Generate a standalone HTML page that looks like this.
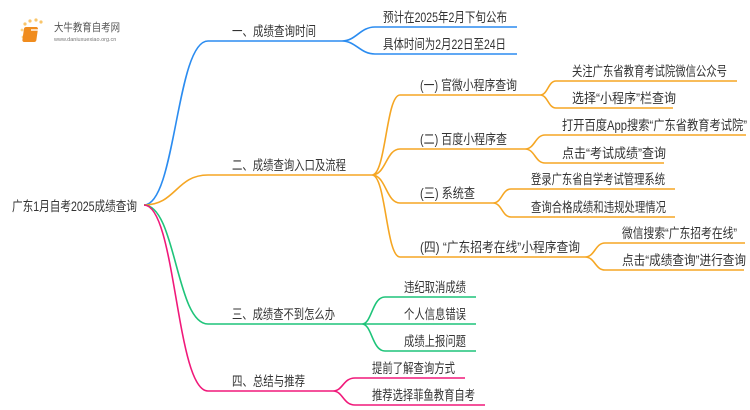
<!DOCTYPE html>
<html><head><meta charset="utf-8"><style>
html,body{margin:0;padding:0;background:#fff;}
svg{display:block;}
text{font-family:"Liberation Sans","Noto Sans CJK SC",sans-serif;font-size:13.5px;fill:#333;}
</style></head><body>
<svg width="750" height="410" viewBox="0 0 750 410" xmlns="http://www.w3.org/2000/svg">
<g>
<circle cx="25" cy="24" r="1.6" fill="#f9c56a"/><circle cx="30" cy="21" r="1.6" fill="#f9c56a"/><circle cx="36" cy="20" r="1.6" fill="#f9c56a"/><circle cx="41" cy="22" r="1.6" fill="#f9c56a"/><circle cx="22" cy="30" r="1.4" fill="#fbd58a"/><circle cx="23" cy="37" r="1.4" fill="#fbd58a"/>
<rect x="28" y="27" width="14" height="15" rx="2" fill="#f08c1e" transform="skewX(-8)"/>
<rect x="31" y="29" width="9" height="2" fill="#fff" opacity="0.7"/>
<text x="54" y="31" style="font-size:11px;fill:#555" textLength="66" lengthAdjust="spacingAndGlyphs">大牛教育自考网</text>
<text x="54" y="41" style="font-size:5.5px;fill:#777">www.daniuxuexiao.org.cn</text>
</g>
<g fill="none" stroke-width="1.6">
<path d="M144,205 C176,205 176,41 208,41 L342,41" stroke="#2b8cf0"/>
<path d="M342,41 C356,41 360,27 375,27 L517,27 M342,41 C356,41 360,54 375,54 L517,54" stroke="#2b8cf0"/>
<path d="M144,205 C176,205 176,175 208,175 L372,175" stroke="#f5a623"/>
<path d="M372,175 C386,175 386,95 400,95 L540,95 M372,175 C386,175 386,149 400,149 L525,149 M372,175 C386,175 386,203 400,203 L493,203 M372,175 C386,175 386,257 400,257 L585,257" stroke="#f5a623"/>
<path d="M540,95 C548,95 548,81 556,81 L737,81 M540,95 C548,95 548,108 556,108 L673,108" stroke="#f5a623"/>
<path d="M525,149 C535,149 535,135 545,135 L746,135 M525,149 C535,149 535,163 545,163 L664,163" stroke="#f5a623"/>
<path d="M493,203 C502,203 502,189 511,189 L675,189 M493,203 C502,203 502,217 511,217 L675,217" stroke="#f5a623"/>
<path d="M585,257 C595,257 595,243 605,243 L745,243 M585,257 C595,257 595,270 605,270 L744,270" stroke="#f5a623"/>
<path d="M144,205 C176,205 176,324 208,324 L362,324" stroke="#1fc47a"/>
<path d="M362,324 C372,324 372,297 385,297 L476,297 M362,324 L476,324 M362,324 C372,324 372,351 385,351 L476,351" stroke="#1fc47a"/>
<path d="M144,205 C176,205 176,391 208,391 L333,391" stroke="#f0197a"/>
<path d="M333,391 C343,391 343,378 355,378 L465,378 M333,391 C343,391 343,405 355,405 L485,405" stroke="#f0197a"/>
</g>
<g>
<text x="12" y="211" textLength="125" lengthAdjust="spacingAndGlyphs">广东1月自考2025成绩查询</text>
<text x="232" y="36" textLength="84" lengthAdjust="spacingAndGlyphs">一、成绩查询时间</text>
<text x="383" y="22" textLength="124" lengthAdjust="spacingAndGlyphs">预计在2025年2月下旬公布</text>
<text x="383" y="49" textLength="123" lengthAdjust="spacingAndGlyphs">具体时间为2月22日至24日</text>
<text x="232" y="170" textLength="114" lengthAdjust="spacingAndGlyphs">二、成绩查询入口及流程</text>
<text x="420" y="90" textLength="97" lengthAdjust="spacingAndGlyphs">(一) 官微小程序查询</text>
<text x="572" y="76" textLength="155" lengthAdjust="spacingAndGlyphs">关注广东省教育考试院微信公众号</text>
<text x="572" y="103" textLength="104" lengthAdjust="spacingAndGlyphs">选择“小程序”栏查询</text>
<text x="420" y="144" textLength="87" lengthAdjust="spacingAndGlyphs">(二) 百度小程序查</text>
<text x="562" y="130" textLength="185" lengthAdjust="spacingAndGlyphs">打开百度App搜索“广东省教育考试院”</text>
<text x="562" y="158" textLength="104" lengthAdjust="spacingAndGlyphs">点击“考试成绩”查询</text>
<text x="420" y="198" textLength="55" lengthAdjust="spacingAndGlyphs">(三) 系统查</text>
<text x="531" y="184" textLength="134" lengthAdjust="spacingAndGlyphs">登录广东省自学考试管理系统</text>
<text x="531" y="212" textLength="135" lengthAdjust="spacingAndGlyphs">查询合格成绩和违规处理情况</text>
<text x="420" y="252" textLength="160" lengthAdjust="spacingAndGlyphs">(四) “广东招考在线”小程序查询</text>
<text x="622" y="238" textLength="115" lengthAdjust="spacingAndGlyphs">微信搜索“广东招考在线”</text>
<text x="622" y="265" textLength="124" lengthAdjust="spacingAndGlyphs">点击“成绩查询”进行查询</text>
<text x="232" y="319" textLength="103" lengthAdjust="spacingAndGlyphs">三、成绩查不到怎么办</text>
<text x="404" y="292" textLength="62" lengthAdjust="spacingAndGlyphs">违纪取消成绩</text>
<text x="404" y="319" textLength="62" lengthAdjust="spacingAndGlyphs">个人信息错误</text>
<text x="404" y="346" textLength="62" lengthAdjust="spacingAndGlyphs">成绩上报问题</text>
<text x="232" y="386" textLength="73" lengthAdjust="spacingAndGlyphs">四、总结与推荐</text>
<text x="372" y="373" textLength="83" lengthAdjust="spacingAndGlyphs">提前了解查询方式</text>
<text x="372" y="400" textLength="103" lengthAdjust="spacingAndGlyphs">推荐选择菲鱼教育自考</text>
</g>
</svg>
</body></html>
